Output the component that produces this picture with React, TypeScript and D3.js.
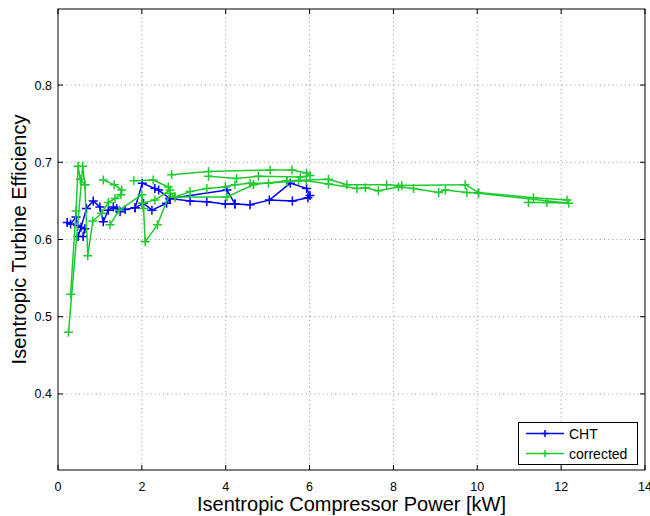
import React from "react";
import * as d3 from "d3";

type Pt = [number, number];

// CHT series, drawn as separate strokes
const chtRun1: Pt[] = [
  [0.22, 0.622], [0.3, 0.62], [0.43, 0.629], [0.47, 0.618], [0.64, 0.614],
  [0.6, 0.604], [0.48, 0.604], [0.55, 0.616], [0.68, 0.64], [0.84, 0.65],
  [1.0, 0.642], [1.08, 0.623], [1.2, 0.638], [1.32, 0.642], [1.48, 0.636],
  [1.4, 0.64], [1.6, 0.639], [1.84, 0.641], [2.04, 0.647], [2.24, 0.638],
  [2.59, 0.647], [2.67, 0.653], [3.15, 0.65], [3.55, 0.649], [3.99, 0.646],
  [4.22, 0.646], [4.58, 0.645], [5.04, 0.651], [5.54, 0.673], [5.93, 0.666],
  [6.01, 0.657], [5.96, 0.654], [5.59, 0.65], [5.04, 0.651],
];
const chtRun2: Pt[] = [
  [1.84, 0.641], [2.01, 0.673], [2.31, 0.666], [2.4, 0.664], [2.67, 0.653],
  [4.03, 0.664], [4.22, 0.646],
];

// corrected series
const corrRun1: Pt[] = [
  [0.25, 0.48], [0.59, 0.695], [0.64, 0.671], [0.71, 0.579], [0.83, 0.624],
  [1.04, 0.634], [1.2, 0.648], [1.36, 0.653], [1.5, 0.658], [1.52, 0.664],
  [1.34, 0.671], [1.08, 0.677],
];
const corrRun2: Pt[] = [
  [0.3, 0.529], [0.43, 0.637], [0.48, 0.695], [0.53, 0.678], [0.64, 0.671],
];
const corrRun3: Pt[] = [
  [1.24, 0.619], [1.46, 0.638], [2.0, 0.658], [2.04, 0.64], [2.08, 0.597],
  [2.37, 0.619], [2.67, 0.66], [2.79, 0.655], [3.15, 0.662], [3.55, 0.666],
  [3.99, 0.668], [4.22, 0.671], [4.58, 0.673], [5.02, 0.673], [5.46, 0.675],
  [5.74, 0.676], [5.92, 0.676], [6.45, 0.672], [7.13, 0.666], [7.33, 0.667],
  [7.64, 0.663], [8.12, 0.668], [8.48, 0.666], [9.08, 0.661], [9.24, 0.664],
  [9.75, 0.661], [10.03, 0.66], [12.18, 0.647], [11.66, 0.648], [11.22, 0.648],
];
const corrRun4: Pt[] = [
  [2.0, 0.647], [2.31, 0.651], [2.67, 0.664], [2.63, 0.668], [2.27, 0.677],
  [1.81, 0.676],
];
const corrRun5: Pt[] = [
  [2.71, 0.684], [3.59, 0.688], [5.06, 0.69], [5.58, 0.69], [5.93, 0.686],
  [6.01, 0.683], [5.78, 0.681], [4.78, 0.682], [4.26, 0.679], [3.59, 0.682],
];
const corrRun6: Pt[] = [
  [2.79, 0.655], [4.03, 0.655], [4.66, 0.671], [5.46, 0.676], [6.45, 0.678],
  [6.89, 0.671], [7.84, 0.671], [8.2, 0.67], [9.71, 0.671], [10.03, 0.661],
  [11.34, 0.654], [12.14, 0.651],
];

const xTicks = [0, 2, 4, 6, 8, 10, 12, 14];
const yTicks = [0.4, 0.5, 0.6, 0.7, 0.8];

const BLUE = "#0000ff";
const GREEN = "#1ecb2e";

const series = [
  { name: "CHT", color: BLUE, runs: [chtRun1, chtRun2] },
  { name: "corrected", color: GREEN, runs: [corrRun1, corrRun2, corrRun3, corrRun4, corrRun5, corrRun6] },
];

const plus = (x: number, y: number, s = 4.5) =>
  `M${x - s},${y}H${x + s}M${x},${y - s}V${y + s}`;

export default function App() {
  const width = 650;
  const height = 516;
  const left = 58, right = 645, top = 9, bottom = 470;

  const x = d3.scaleLinear().domain([0, 14]).range([left, right]);
  const y = d3.scaleLinear().domain([0.3015, 0.8985]).range([bottom, top]);

  const line = d3.line<Pt>().x((d) => x(d[0])).y((d) => y(d[1]));

  const font = "Arial, 'Liberation Sans', Helvetica, sans-serif";
  const tl = 5;

  return (
    <svg
      width={width}
      height={height}
      style={{ position: "absolute", left: 0, top: 0, background: "#fff" }}
      fontFamily={font}
    >
      <rect x={0} y={0} width={width} height={height} fill="#fff" />
      {/* grid */}
      <g stroke="#777" strokeWidth={0.8} strokeDasharray="1,3.2">
        {xTicks.slice(1, -1).map((t) => (
          <line key={"gx" + t} x1={x(t)} x2={x(t)} y1={top} y2={bottom} />
        ))}
        {yTicks.map((t) => (
          <line key={"gy" + t} x1={left} x2={right} y1={y(t)} y2={y(t)} />
        ))}
      </g>

      {/* data */}
      {series.map((s) => (
        <g key={s.name}>
          {s.runs.map((r, i) => (
            <path key={i} d={line(r)!} fill="none" stroke={s.color} strokeWidth={1.5} strokeLinejoin="round" />
          ))}
          {s.runs.map((r, i) => (
            <path
              key={"m" + i}
              d={r.map((d) => plus(x(d[0]), y(d[1]))).join("")}
              fill="none"
              stroke={s.color}
              strokeWidth={1.5}
            />
          ))}
        </g>
      ))}

      {/* axes box and ticks */}
      <rect x={left} y={top} width={right - left} height={bottom - top} fill="none" stroke="#000" strokeWidth={1} />
      <g stroke="#000" strokeWidth={1}>
        {xTicks.map((t) => (
          <g key={"tx" + t}>
            <line x1={x(t)} x2={x(t)} y1={bottom} y2={bottom - tl} />
            <line x1={x(t)} x2={x(t)} y1={top} y2={top + tl} />
          </g>
        ))}
        {yTicks.map((t) => (
          <g key={"ty" + t}>
            <line x1={left} x2={left + tl} y1={y(t)} y2={y(t)} />
            <line x1={right} x2={right - tl} y1={y(t)} y2={y(t)} />
          </g>
        ))}
      </g>
      <g fontSize={12.5} fill="#000">
        {xTicks.map((t) => (
          <text key={"lx" + t} x={x(t)} y={bottom + 21} textAnchor="middle">
            {t}
          </text>
        ))}
        {yTicks.map((t) => (
          <text key={"ly" + t} x={left - 6} y={y(t) + 4.5} textAnchor="end">
            {t.toFixed(1)}
          </text>
        ))}
      </g>

      <text x={(left + right) / 2} y={511} textAnchor="middle" fontSize={20}>
        Isentropic Compressor Power [kW]
      </text>
      <text
        transform={`translate(26,${(top + bottom) / 2}) rotate(-90)`}
        textAnchor="middle"
        fontSize={20}
      >
        Isentropic Turbine Efficiency
      </text>

      {/* legend */}
      <g>
        <rect x={518.5} y={422.5} width={119} height={42} fill="#fff" stroke="#000" strokeWidth={1} />
        {series.map((s, i) => {
          const ly = 433.5 + i * 20;
          return (
            <g key={"lg" + s.name}>
              <line x1={526} x2={564} y1={ly} y2={ly} stroke={s.color} strokeWidth={1.5} />
              <path d={plus(545, ly, 3.5)} stroke={s.color} strokeWidth={1.5} fill="none" />
              <text x={569} y={ly + 5} fontSize={14}>
                {s.name}
              </text>
            </g>
          );
        })}
      </g>
    </svg>
  );
}
